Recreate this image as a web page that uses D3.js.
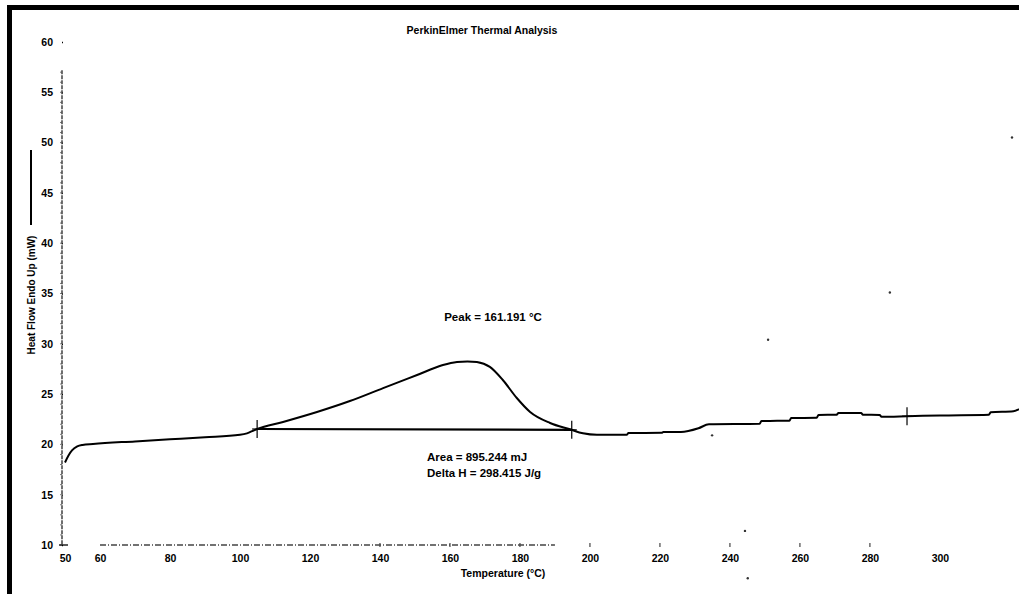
<title>PerkinElmer Thermal Analysis</title>
<script src="https://cdn.jsdelivr.net/npm/d3@7"></script>
<style>
    body { margin: 0; background: #fff; }
    text { font-family: "Liberation Sans", Arial, sans-serif; font-weight: bold; fill: #000; }
</style>
<body>
<script>
    // heat flow trace, [temperature °C, heat flow mW]
    let trace = [
        [50, 18.2], [51, 18.9], [52, 19.4], [53.5, 19.8], [55, 19.95], [58, 20.05],
        [70, 20.3], [80, 20.5], [90, 20.7], [100, 20.95], [102, 21.1], [104, 21.4],
        [104.9, 21.53], [112.3, 22.23], [122, 23.22], [131.4, 24.31], [140.9, 25.6],
        [150.6, 26.9], [158, 27.89], [162, 28.19], [165, 28.25], [167.7, 28.19], [171.4, 27.7],
        [175.1, 26.4], [179.1, 24.61], [182.9, 23.22], [188.6, 22.13], [194.3, 21.5],
        [198, 21.1], [202, 20.95], [210.5, 20.95],
        [211, 21.13], [220.5, 21.15], [221, 21.23], [226, 21.23], [231, 21.6], [234, 22.0],
        [248.5, 22.05], [249, 22.33], [257, 22.35], [257.5, 22.62], [264.8, 22.65], [265.3, 22.92],
        [270.5, 22.95], [271, 23.12], [277.5, 23.12], [278, 22.95], [282.8, 22.92], [283.3, 22.75],
        [290.6, 22.8], [300, 22.88], [314, 22.95], [314.5, 23.2], [321, 23.3], [322.6, 23.5]
    ];
    // integration baseline between the two limit marks
    let baseline = [[104.9, 21.53], [194.8, 21.45]];
    // limit / cursor marks
    let markers = [[104.9, 21.53], [194.8, 21.45], [290.6, 22.8]];
    // small scan specks
    let specks = [[234.9, 20.9], [244.3, 11.4], [245.1, 6.7], [250.9, 30.4], [285.7, 35.1], [320.6, 50.5]];

    let xTicks = [50, 60, 80, 100, 120, 140, 160, 180, 200, 220, 240, 260, 280, 300];
    let yTicks = [10, 15, 20, 25, 30, 35, 40, 45, 50, 55, 60];
    let yMinor = d3.range(10, 58, 1);

    let titleText = "PerkinElmer Thermal Analysis";
    let xTitle = "Temperature (°C)";
    let yTitle = "Heat Flow Endo Up (mW)";
    let peakText = "Peak = 161.191 °C";
    let areaText = "Area = 895.244 mJ";
    let deltaText = "Delta H = 298.415 J/g";

    let W = 1019, H = 594;
    let svg = d3.select("body").append("svg").attr("width", W).attr("height", H);

    let x = d3.scaleLinear().domain([50, 322.6]).range([65, 1019]);
    let y = d3.scaleLinear().domain([10, 60]).range([545, 42]);

    // frame bars (scanned page edge)
    svg.append("rect").attr("x", 7).attr("y", 5).attr("width", W - 7).attr("height", 5).attr("fill", "#000");
    svg.append("rect").attr("x", 7).attr("y", 5).attr("width", 5).attr("height", H - 5).attr("fill", "#000");

    // title
    svg.append("text").attr("x", 482).attr("y", 34).attr("text-anchor", "middle")
        .attr("font-size", 10.5).text(titleText);

    // y axis
    let yAx = svg.append("g").attr("transform", `translate(${x(50) - 3},0)`)
        .call(d3.axisLeft(y).tickValues(yTicks).tickSize(5).tickPadding(4));
    yAx.select(".domain").remove();
    yAx.selectAll(".tick line").attr("stroke-width", 1.3).attr("x2", 1);
    yAx.selectAll(".tick text").attr("font-size", 10.5).attr("font-family", null);
    svg.append("line").attr("x1", x(50) - 3).attr("x2", x(50) - 3)
        .attr("y1", y(57.2)).attr("y2", y(10))
        .attr("stroke", "#333").attr("stroke-width", 1.4).attr("stroke-dasharray", "4,1");
    svg.append("g").selectAll("line").data(yMinor).join("line")
        .attr("x1", x(50) - 5).attr("x2", x(50) - 3)
        .attr("y1", d => y(d)).attr("y2", d => y(d))
        .attr("stroke", "#555").attr("stroke-width", 0.8);

    // x axis
    let xAx = svg.append("g").attr("transform", `translate(0,${y(10) + 5})`)
        .call(d3.axisBottom(x).tickValues(xTicks).tickSize(0).tickPadding(5));
    xAx.select(".domain").remove();
    xAx.selectAll(".tick text").attr("font-size", 10.5).attr("font-family", null);
    svg.append("line").attr("x1", x(60)).attr("x2", x(190))
        .attr("y1", y(10)).attr("y2", y(10))
        .attr("stroke", "#444").attr("stroke-width", 1.4).attr("stroke-dasharray", "6,2,1,2");
    svg.append("g").selectAll("line").data(xTicks.filter(d => d >= 140 && d <= 280)).join("line")
        .attr("x1", d => x(d)).attr("x2", d => x(d))
        .attr("y1", y(10) - 2).attr("y2", y(10) + 2)
        .attr("stroke", "#444").attr("stroke-width", 1.2);
    // corner cross
    svg.append("line").attr("x1", x(50) - 6).attr("x2", x(50) + 3)
        .attr("y1", y(10)).attr("y2", y(10)).attr("stroke", "#000").attr("stroke-width", 1.3);

    svg.append("text").attr("x", 503).attr("y", 577).attr("text-anchor", "middle")
        .attr("font-size", 10.5).text(xTitle);

    // y title with legend line
    let yt = svg.append("g").attr("transform", `translate(31,295) rotate(-90)`);
    yt.append("text").attr("text-anchor", "middle").attr("dy", "0.35em")
        .attr("font-size", 10).text(yTitle);
    yt.append("line").attr("x1", 70).attr("x2", 145).attr("y1", 0).attr("y2", 0)
        .attr("stroke", "#000").attr("stroke-width", 2);

    // baseline and trace
    let line = d3.line().x(d => x(d[0])).y(d => y(d[1]));
    svg.append("path").datum(baseline).attr("d", line)
        .attr("fill", "none").attr("stroke", "#000").attr("stroke-width", 2.2);
    svg.append("path").datum(trace).attr("d", line.curve(d3.curveMonotoneX))
        .attr("fill", "none").attr("stroke", "#000").attr("stroke-width", 2)
        .attr("stroke-linejoin", "round");

    // limit marks
    let mk = svg.append("g").selectAll("g").data(markers).join("g")
        .attr("transform", d => `translate(${x(d[0])},${y(d[1])})`);
    mk.append("line").attr("x1", 0).attr("x2", 0).attr("y1", -9).attr("y2", 9)
        .attr("stroke", "#000").attr("stroke-width", 1.2);
    mk.append("line").attr("x1", -5).attr("x2", 5).attr("y1", 0).attr("y2", 0)
        .attr("stroke", "#000").attr("stroke-width", 1.2);

    // specks
    svg.append("g").selectAll("circle").data(specks).join("circle")
        .attr("cx", d => x(d[0])).attr("cy", d => y(d[1])).attr("r", 1.2).attr("fill", "#333");

    // annotations
    svg.append("text").attr("x", 493).attr("y", 321).attr("text-anchor", "middle")
        .attr("font-size", 11.5).text(peakText);
    svg.append("text").attr("x", 427).attr("y", 461).attr("font-size", 11.5).text(areaText);
    svg.append("text").attr("x", 427).attr("y", 477).attr("font-size", 11.5).text(deltaText);
</script>
</body>
